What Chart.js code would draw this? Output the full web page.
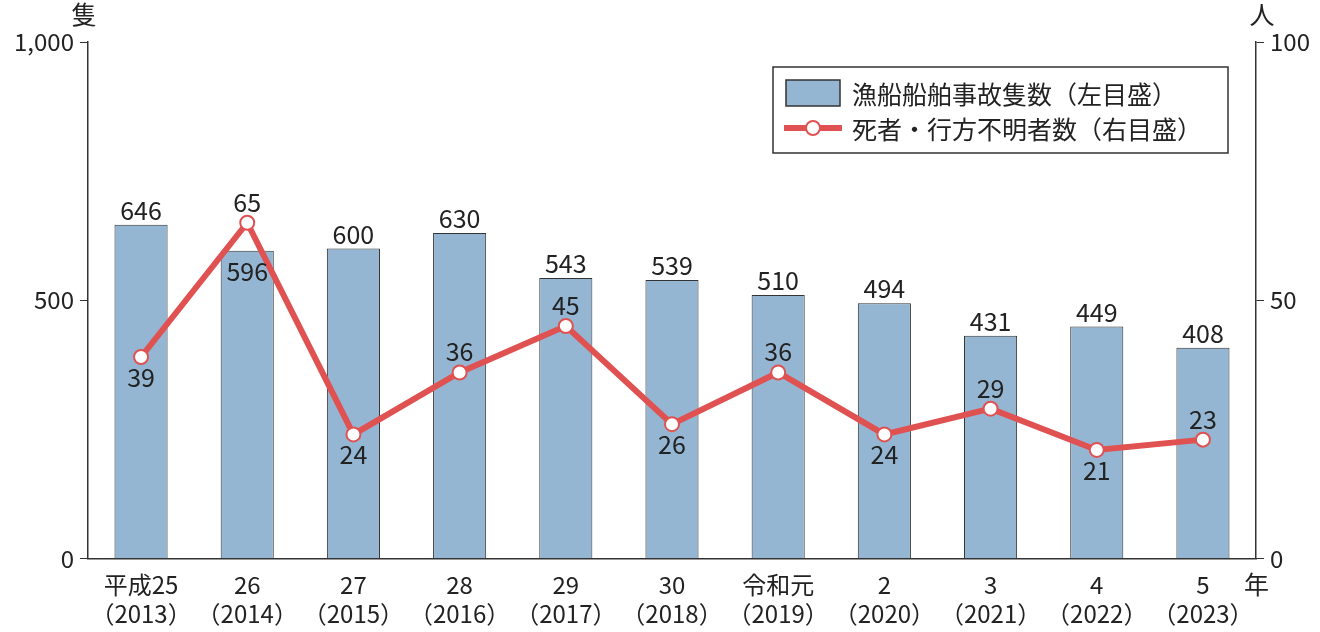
<!DOCTYPE html>
<html><head><meta charset="utf-8">
<script src="https://cdn.jsdelivr.net/npm/chart.js@4"></script>
<style>body{margin:0;background:#fff}</style>
</head><body>
<canvas id="myChart" width="1320" height="632"></canvas>
<script>
var categories = [['平成25', '（2013）'], ['26', '（2014）'], ['27', '（2015）'], ['28', '（2016）'], ['29', '（2017）'], ['30', '（2018）'], ['令和元', '（2019）'], ['2', '（2020）'], ['3', '（2021）'], ['4', '（2022）'], ['5', '（2023）']];
var accidents = [646, 596, 600, 630, 543, 539, 510, 494, 431, 449, 408];
var casualties = [39, 65, 24, 36, 45, 26, 36, 24, 29, 21, 23];
var casualtyLabelBelow = [true, false, true, false, false, true, false, true, false, true, false];
var leftTicks = [0, 500, 1000];
var rightTicks = [0, 50, 100];

var FONT = "'Noto Sans CJK JP', 'Noto Sans', sans-serif";
var RED = '#e05252';

var labelsPlugin = {
    id: 'labels',
    afterDatasetsDraw: function (chart) {
        var c = chart.ctx;
        c.save();
        c.font = '25px ' + FONT;
        c.fillStyle = '#222';
        c.textAlign = 'center';
        var pts = chart.getDatasetMeta(0).data;
        var bars = chart.getDatasetMeta(1).data;
        bars.forEach(function (b, i) {
            if (i === 1) {
                c.textBaseline = 'top';
                c.fillText(accidents[i].toLocaleString(), b.x, b.y + 8);
            } else {
                c.textBaseline = 'bottom';
                c.fillText(accidents[i].toLocaleString(), b.x, b.y - 2);
            }
        });
        pts.forEach(function (p, i) {
            if (casualtyLabelBelow[i]) {
                c.textBaseline = 'top';
                c.fillText(casualties[i], p.x, p.y + 8);
            } else {
                c.textBaseline = 'bottom';
                c.fillText(casualties[i], p.x, p.y - 8);
            }
        });
        var a = chart.chartArea;
        c.textBaseline = 'middle';
        c.fillText('隻', a.left - 4, 14);
        c.fillText('人', a.right + 6, 14);
        c.textAlign = 'left';
        c.fillText('年', a.right - 12, 584);
        // legend
        c.lineWidth = 1.5;
        c.strokeStyle = '#333';
        c.fillStyle = '#fff';
        c.fillRect(773, 67, 455, 86);
        c.strokeRect(773, 67, 455, 86);
        c.fillStyle = '#94b6d2';
        c.fillRect(786, 80, 54, 26);
        c.strokeRect(786, 80, 54, 26);
        c.strokeStyle = RED;
        c.lineWidth = 6;
        c.beginPath(); c.moveTo(784, 128); c.lineTo(842, 128); c.stroke();
        c.beginPath(); c.arc(813, 128, 7, 0, Math.PI * 2);
        c.fillStyle = '#fff'; c.fill(); c.lineWidth = 2; c.stroke();
        c.fillStyle = '#222';
        c.textBaseline = 'middle';
        c.fillText('漁船船舶事故隻数（左目盛）', 852, 94);
        c.fillText('死者・行方不明者数（右目盛）', 852, 129);
        c.restore();
    }
};

var ctx = document.getElementById('myChart').getContext('2d');
var myChart = new Chart(ctx, {
    type: 'bar',
    data: {
        labels: categories,
        datasets: [{
            type: 'line',
            label: '死者・行方不明者数（右目盛）',
            data: casualties,
            yAxisID: 'y2',
            borderColor: RED,
            borderWidth: 6,
            pointRadius: 7,
            pointBorderWidth: 2,
            pointBackgroundColor: '#fff',
            pointBorderColor: RED,
            tension: 0,
            order: 0
        }, {
            label: '漁船船舶事故隻数（左目盛）',
            data: accidents,
            yAxisID: 'y',
            backgroundColor: '#94b6d2',
            borderColor: '#333',
            borderWidth: 1,
            borderSkipped: 'bottom',
            categoryPercentage: 1,
            barPercentage: 0.5,
            order: 1
        }]
    },
    options: {
        responsive: false,
        animation: false,
        layout: { padding: { top: 42, right: 4, left: 8, bottom: 0 } },
        plugins: { legend: { display: false }, tooltip: { enabled: false } },
        scales: {
            x: {
                grid: { display: false },
                border: { color: '#333', width: 1.5 },
                ticks: { color: '#222', font: { size: 24, family: FONT }, padding: 4, maxRotation: 0, autoSkip: false }
            },
            y: {
                position: 'left',
                min: 0, max: 1000,
                afterBuildTicks: function (s) { s.ticks = leftTicks.map(function (v) { return { value: v }; }); },
                grid: { drawOnChartArea: false, tickLength: 8, color: '#333' },
                border: { color: '#333', width: 1.5 },
                ticks: { color: '#222', font: { size: 24, family: FONT }, padding: 6, callback: function (v) { return v.toLocaleString(); } }
            },
            y2: {
                position: 'right',
                min: 0, max: 100,
                afterBuildTicks: function (s) { s.ticks = rightTicks.map(function (v) { return { value: v }; }); },
                grid: { drawOnChartArea: false, tickLength: 8, color: '#333' },
                border: { color: '#333', width: 1.5 },
                ticks: { color: '#222', font: { size: 24, family: FONT }, padding: 6 }
            }
        }
    },
    plugins: [labelsPlugin]
});
</script>
</body></html>
